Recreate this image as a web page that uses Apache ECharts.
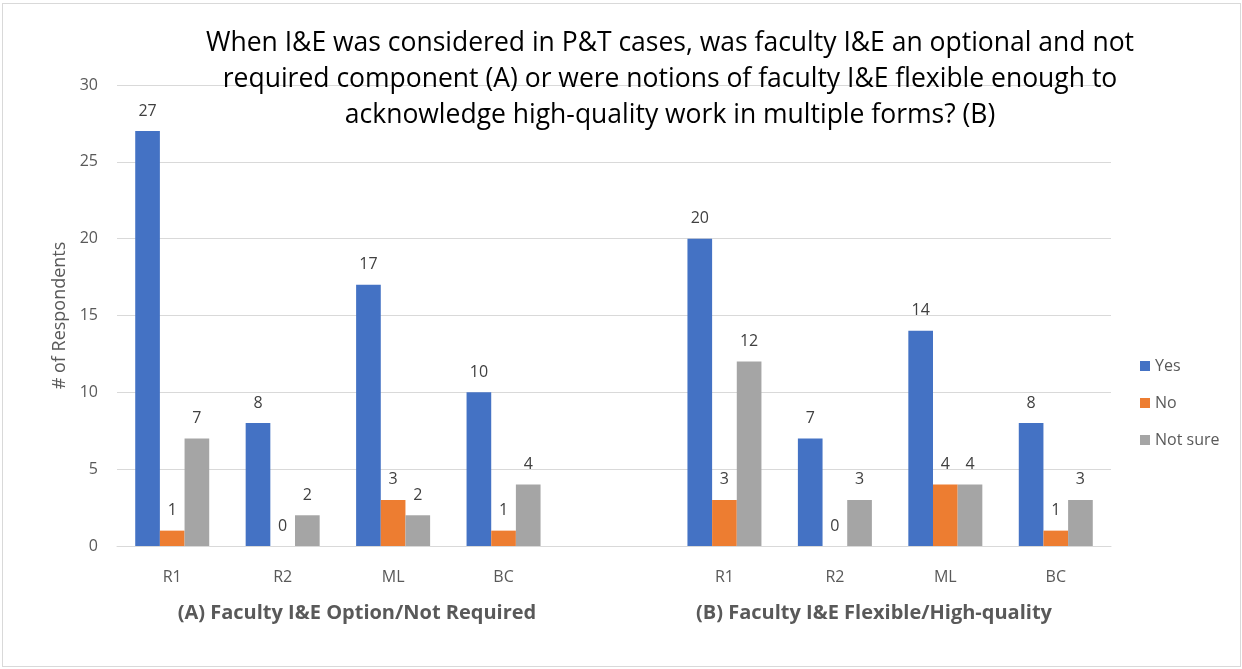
<!DOCTYPE html>
<html>
<head>
<meta charset="utf-8">
<script src="https://cdn.jsdelivr.net/npm/echarts@6/dist/echarts.min.js"></script>
<style>
  html, body { margin: 0; padding: 0; background: #fff; }
  #chart { width: 1242px; height: 669px; }
  #frame { position: absolute; left: 2px; top: 3px; width: 1237px; height: 662px; border: 1px solid #d9d9d9; pointer-events: none; }
</style>
</head>
<body>
<div id="chart"></div>
<div id="frame"></div>
<script>
// categories: group A, a blank spacer, group B
const categories = ['R1', 'R2', 'ML', 'BC', '', 'R1', 'R2', 'ML', 'BC'];
const groupLabels = ['(A) Faculty I&E Option/Not Required', '(B) Faculty I&E Flexible/High-quality'];
const seriesNames = ['Yes', 'No', 'Not sure'];
const yesValues = [27, 8, 17, 10, '-', 20, 7, 14, 8];
const noValues = [1, 0, 3, 1, '-', 3, 0, 4, 1];
const notSureValues = [7, 2, 2, 4, '-', 12, 3, 4, 3];
const colors = ['#4472c4', '#ed7d31', '#a5a5a5'];

const titleText = 'When I&E was considered in P&T cases, was faculty I&E an optional and not\n' +
  'required component (A) or were notions of faculty I&E flexible enough to\n' +
  'acknowledge high-quality work in multiple forms? (B)';

const font = 'Open Sans';

function barSeries(name, data, color) {
  return {
    name: name,
    type: 'bar',
    data: data,
    barGap: '0%',
    barCategoryGap: '33%',
    itemStyle: { color: color },
    label: {
      show: true,
      position: 'top',
      distance: 12,
      color: '#404040',
      fontSize: 16,
      fontFamily: font
    }
  };
}

const chart = echarts.init(document.getElementById('chart'), null, { renderer: 'canvas' });
chart.setOption({
  animation: false,
  title: {
    text: titleText,
    left: 665,
    top: 20,
    textAlign: 'center',
    textStyle: {
      fontFamily: font,
      fontSize: 26.5,
      fontWeight: 'normal',
      color: '#000',
      lineHeight: 36
    }
  },
  legend: {
    orient: 'vertical',
    left: 1135,
    top: 353,
    itemWidth: 10,
    itemHeight: 10,
    itemGap: 21,
    icon: 'rect',
    data: seriesNames,
    textStyle: { fontFamily: font, fontSize: 16, color: '#595959' }
  },
  grid: { left: 117, right: 131, top: 85, bottom: 123, containLabel: false },
  xAxis: {
    type: 'category',
    data: categories,
    axisLine: { lineStyle: { color: '#d9d9d9' } },
    axisTick: { show: false },
    axisLabel: { margin: 23, color: '#595959', fontSize: 16, fontFamily: font, interval: 0 }
  },
  yAxis: {
    type: 'value',
    min: 0,
    max: 30,
    interval: 5,
    name: '# of Respondents',
    nameLocation: 'middle',
    nameGap: 46,
    nameTextStyle: { fontFamily: font, fontSize: 18, color: '#595959' },
    axisLine: { show: false },
    axisTick: { show: false },
    axisLabel: { margin: 19, color: '#595959', fontSize: 16, fontFamily: font },
    splitLine: { lineStyle: { color: '#d9d9d9' } }
  },
  graphic: [
    {
      type: 'text', x: 357, y: 613,
      style: { text: groupLabels[0], fontFamily: font, fontSize: 20, fontWeight: 'bold', fill: '#595959', align: 'center', verticalAlign: 'middle' }
    },
    {
      type: 'text', x: 874, y: 613,
      style: { text: groupLabels[1], fontFamily: font, fontSize: 20, fontWeight: 'bold', fill: '#595959', align: 'center', verticalAlign: 'middle' }
    }
  ],
  series: [
    barSeries(seriesNames[0], yesValues, colors[0]),
    barSeries(seriesNames[1], noValues, colors[1]),
    barSeries(seriesNames[2], notSureValues, colors[2])
  ]
});
</script>
</body>
</html>
